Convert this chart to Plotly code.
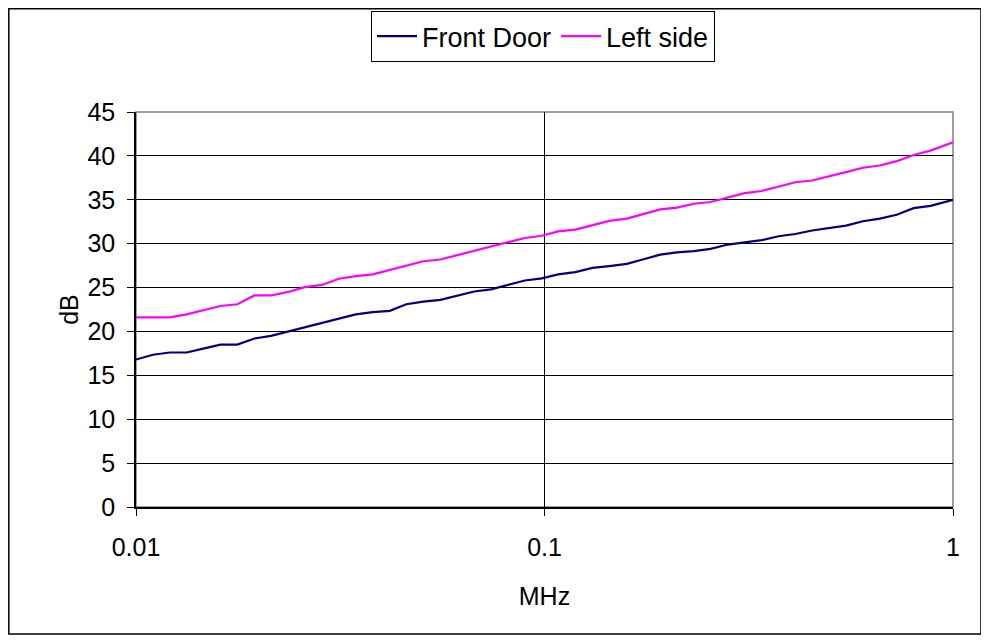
import plotly.graph_objects as go

freq_mhz = [0.01, 0.011, 0.0121, 0.0133, 0.0146, 0.0161, 0.0177, 0.0195, 0.0214, 0.0236,
            0.0259, 0.0285, 0.0314, 0.0345, 0.038, 0.0418, 0.0459, 0.0505, 0.0556, 0.0612,
            0.0673, 0.074, 0.0814, 0.0895, 0.0985, 0.108, 0.119, 0.131, 0.144, 0.159,
            0.174, 0.192, 0.211, 0.232, 0.255, 0.281, 0.309, 0.34, 0.374, 0.411,
            0.452, 0.497, 0.547, 0.602, 0.662, 0.728, 0.801, 0.881, 0.969, 1.0]

front_door = [16.8, 17.35, 17.6, 17.6, 18.05, 18.5, 18.5, 19.2, 19.5,
              20.0, 20.45, 20.95, 21.45, 21.95, 22.2, 22.35, 23.1,
              23.4, 23.6, 24.1, 24.55, 24.8, 25.3, 25.8, 26.05,
              26.5, 26.75, 27.25, 27.45, 27.7, 28.2, 28.75, 29.0,
              29.15, 29.4, 29.9, 30.15, 30.4, 30.85, 31.1, 31.5,
              31.8, 32.05, 32.55, 32.85, 33.3, 34.05, 34.3, 34.8, 35.0]

left_side = [21.6, 21.6, 21.6, 21.95, 22.4, 22.9, 23.1, 24.1, 24.1,
             24.5, 25.05, 25.3, 26.0, 26.3, 26.5, 27.0, 27.5,
             28.0, 28.2, 28.7, 29.15, 29.7, 30.2, 30.65, 30.9,
             31.4, 31.6, 32.1, 32.6, 32.85, 33.35, 33.9, 34.1,
             34.55, 34.75, 35.25, 35.75, 36.0, 36.5, 37.0, 37.2,
             37.65, 38.15, 38.65, 38.9, 39.4, 40.1, 40.6, 41.3, 41.55]

x_tick_vals = [0.01, 0.1, 1]
x_tick_text = ["0.01", "0.1", "1"]
y_tick_vals = [0, 5, 10, 15, 20, 25, 30, 35, 40, 45]

FONT = "Liberation Sans, Arial, sans-serif"
FS = 25

fig = go.Figure()
fig.add_trace(go.Scatter(x=freq_mhz, y=front_door, mode="lines", name="Front Door",
                         line=dict(color="#000080", width=2.2)))
fig.add_trace(go.Scatter(x=freq_mhz, y=left_side, mode="lines", name="Left side",
                         line=dict(color="#FF00FF", width=2.2)))

# figure coordinates (page is offset by the 8px body margin)
W, H = 981, 634
L, R, T, B = 128, 945, 104, 499
pw, ph = R - L, B - T

def px(x):
    return (x - L) / pw

def py(y):
    return (B - y) / ph

fig.update_layout(
    width=W, height=H,
    margin=dict(l=L, r=W - R, t=T, b=H - B, autoexpand=False),
    paper_bgcolor="white", plot_bgcolor="white",
    font=dict(family=FONT, size=FS, color="black"),
    showlegend=True,
    legend=dict(orientation="h", x=px(535), xanchor="center", y=py(3), yanchor="top",
                bordercolor="black", borderwidth=1, bgcolor="white",
                font=dict(size=27), itemwidth=40, tracegroupgap=0),
    shapes=[
        dict(type="rect", xref="paper", yref="paper", x0=0, x1=1, y0=0, y1=1,
             line=dict(color="#808080", width=1.5), layer="below"),
        dict(type="rect", xref="paper", yref="paper", x0=px(0.8), x1=px(973),
             y0=py(626), y1=py(0.8), line=dict(color="black", width=1.5)),
    ],
)

fig.update_xaxes(type="log", range=[-2, 0], tickvals=x_tick_vals, ticktext=x_tick_text,
                 showgrid=True, gridcolor="black", gridwidth=1,
                 showline=True, linecolor="black", linewidth=1.5,
                 ticks="outside", ticklen=7, tickcolor="black",
                 ticklabelstandoff=10, tickfont=dict(size=FS),
                 title=dict(text="MHz", font=dict(size=FS), standoff=28),
                 zeroline=False)
fig.update_yaxes(range=[0, 45], tickvals=y_tick_vals,
                 showgrid=True, gridcolor="black", gridwidth=1,
                 showline=True, linecolor="black", linewidth=1.5,
                 ticks="outside", ticklen=7, tickcolor="black",
                 ticklabelstandoff=7, tickfont=dict(size=FS),
                 title=dict(text="dB", font=dict(size=FS), standoff=2),
                 zeroline=False)

fig.write_html("out.html")
